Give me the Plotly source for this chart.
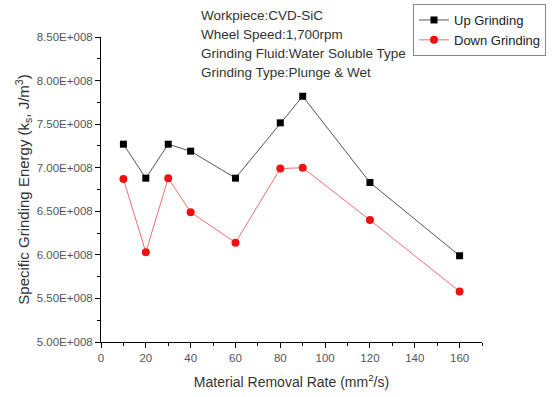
import plotly.graph_objects as go

# Material removal rate (mm^2/s)
mrr = [10, 20, 30, 40, 60, 80, 90, 120, 160]
# Specific grinding energy (J/m^3)
up_grinding = [7.27e8, 6.88e8, 7.27e8, 7.19e8, 6.88e8, 7.515e8, 7.82e8, 6.83e8, 5.99e8]
down_grinding = [6.87e8, 6.03e8, 6.88e8, 6.49e8, 6.14e8, 6.99e8, 7.00e8, 6.40e8, 5.58e8]

y_tickvals = [5.0e8, 5.5e8, 6.0e8, 6.5e8, 7.0e8, 7.5e8, 8.0e8, 8.5e8]
y_ticktext = ["5.00E+008", "5.50E+008", "6.00E+008", "6.50E+008",
              "7.00E+008", "7.50E+008", "8.00E+008", "8.50E+008"]
x_tickvals = [0, 20, 40, 60, 80, 100, 120, 140, 160]

conditions = ["Workpiece:CVD-SiC", "Wheel Speed:1,700rpm",
              "Grinding Fluid:Water Soluble Type", "Grinding Type:Plunge & Wet"]

FONT = "Liberation Sans, Arial, sans-serif"
W, H = 552, 397

fig = go.Figure()
fig.add_trace(go.Scatter(
    x=mrr, y=up_grinding, name="Up Grinding", mode="lines+markers",
    line=dict(color="#555555", width=1),
    marker=dict(symbol="square", size=7, color="black"),
))
fig.add_trace(go.Scatter(
    x=mrr, y=down_grinding, name="Down Grinding", mode="lines+markers",
    line=dict(color="#ee7070", width=1),
    marker=dict(symbol="circle", size=8, color="#ee1111"),
))

# Experimental conditions block above the plot
plot_left, plot_right = 101, 482
plot_top, plot_bottom = 37, 342
for i, line in enumerate(conditions):
    ypx = 16 + i * 18.7
    fig.add_annotation(
        text=line, xref="paper", yref="paper",
        x=(199 - plot_left) / (plot_right - plot_left),
        y=(plot_bottom - ypx) / (plot_bottom - plot_top),
        xanchor="left", yanchor="middle", showarrow=False,
        font=dict(family=FONT, size=13.5, color="#333333"),
    )

fig.update_layout(
    width=W, height=H,
    margin=dict(l=plot_left, r=W - plot_right, t=plot_top, b=H - plot_bottom,
                autoexpand=False),
    paper_bgcolor="white", plot_bgcolor="white",
    font=dict(family=FONT, size=11.5, color="#444444"),
    legend=dict(
        xref="container", yref="container",
        x=413 / W, y=1 - 4 / H,
        xanchor="left", yanchor="top",
        bordercolor="#888888", borderwidth=1, bgcolor="white",
        font=dict(family=FONT, size=13, color="#222222"),
        tracegroupgap=0, itemwidth=30,
    ),
    xaxis=dict(
        range=[0, 170], tickvals=x_tickvals, showgrid=False, zeroline=False,
        showline=True, linecolor="black", linewidth=1,
        ticks="outside", ticklen=5, tickcolor="black",
        minor=dict(dtick=10, tick0=0, ticks="outside", ticklen=3, tickcolor="black", showgrid=False),
        tickfont=dict(size=11.5, color="#555555"),
        title=dict(text="Material Removal Rate (mm<sup>2</sup>/s)",
                   font=dict(size=14, color="#333333"), standoff=14),
    ),
    yaxis=dict(
        range=[5.0e8, 8.5e8], tickvals=y_tickvals, ticktext=y_ticktext,
        showgrid=False, zeroline=False,
        showline=True, linecolor="black", linewidth=1,
        ticks="outside", ticklen=5, tickcolor="black",
        minor=dict(dtick=0.25e8, tick0=5.0e8, ticks="outside", ticklen=3, tickcolor="black", showgrid=False),
        tickfont=dict(size=11.5, color="#555555"),
        title=dict(text="Specific Grinding Energy (k<sub>s</sub>, J/m<sup>3</sup>)",
                   font=dict(size=15, color="#333333"), standoff=3),
    ),
)

fig.write_html("out.html")
